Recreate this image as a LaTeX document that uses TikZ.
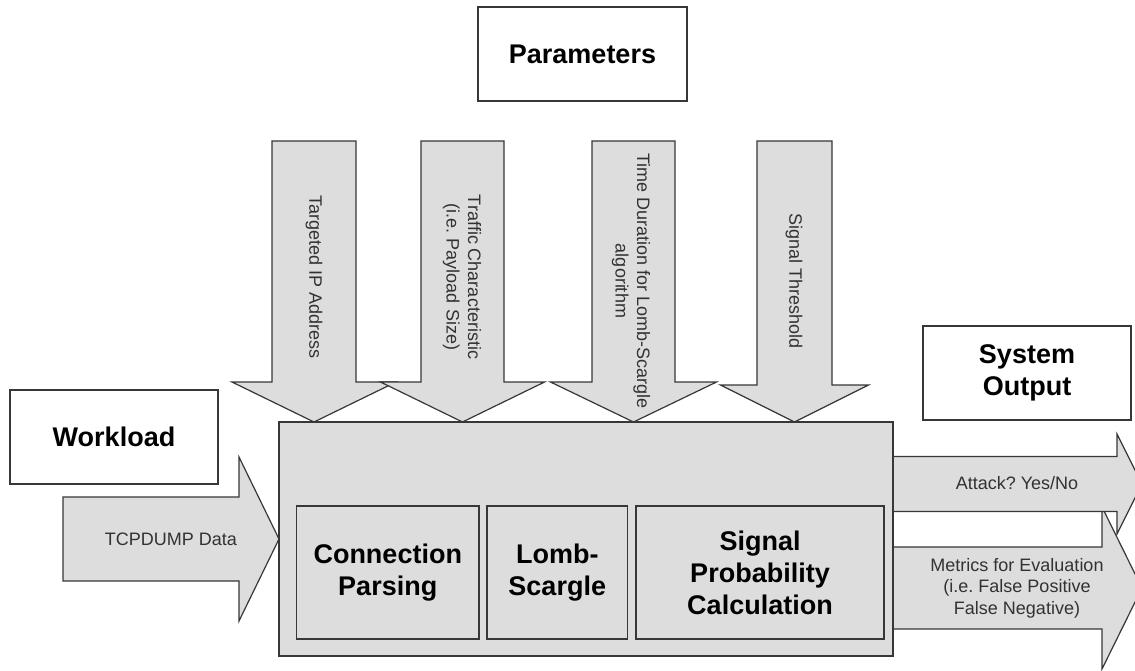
\documentclass[tikz,border=0pt]{standalone}
\usepackage{fontspec}
\setmainfont{Liberation Sans}
\frenchspacing
\definecolor{fillgray}{RGB}{221,221,221}
\definecolor{linegray}{RGB}{55,55,55}
\definecolor{textgray}{RGB}{50,50,50}
\newcommand\DownArr[6]{% cx, half shaft, half head, top, base, tip
  \filldraw[blockfill] (#1-#2,#4) -- (#1+#2,#4) -- (#1+#2,#5) -- (#1+#3,#5) -- (#1,#6) -- (#1-#3,#5) -- (#1-#2,#5) -- cycle;}
\newcommand\RightArr[6]{% cy, half shaft, half head, left, base, tip
  \filldraw[blockfill] (#4,#1-#2) -- (#5,#1-#2) -- (#5,#1-#3) -- (#6,#1) -- (#5,#1+#3) -- (#5,#1+#2) -- (#4,#1+#2) -- cycle;}
\begin{document}
\begin{tikzpicture}[x=1pt,y=-1pt,
  blockfill/.style={fill=fillgray,draw=linegray,line width=1.2pt,line join=miter},
  wbox/.style={draw=linegray,line width=1.2pt,fill=white,inner sep=0pt},
  gbox/.style={draw=linegray,line width=1.2pt,fill=fillgray,inner sep=0pt},
  titletxt/.style={font=\fontsize{27}{32}\selectfont\bfseries\frenchspacing,text=black,align=center},
  smalltxt/.style={font=\fontsize{18}{21.5}\selectfont\frenchspacing,text=textgray,align=center,inner sep=0pt},
]
\useasboundingbox (0,0) rectangle (1135,670);

% title boxes
\node[wbox,titletxt,minimum width=209pt,minimum height=94pt] (params) at (582.5,54) {Parameters};
\node[wbox,titletxt,minimum width=208pt,minimum height=94pt] (workload) at (114,437) {Workload};
\node[wbox,titletxt,minimum width=208pt,minimum height=94pt] (sysout) at (1027,373) {System\\Output};

% down arrows
\DownArr{314}{42}{82}{141}{382}{422}
\DownArr{462.5}{41.5}{82}{141}{382}{422}
\DownArr{633.5}{41.5}{83}{141}{382}{422}
\DownArr{794.5}{37.5}{74}{141}{385}{422}
\node[smalltxt,rotate=-90] (p1) at (314,277) {Targeted IP Address};
\node[smalltxt,rotate=-90] (p2) at (462,277) {Traffic Characteristic\\(i.e. Payload Size)};
\node[smalltxt,rotate=-90] (p3) at (631,281) {Time Duration for Lomb-Scargle\\algorithm};
\node[smalltxt,rotate=-90] (p4) at (794,281) {Signal Threshold};

% input arrow
\RightArr{539}{42}{82}{63}{239}{279}
\node[smalltxt] (tcp) at (171,539) {TCPDUMP Data};

% output arrows
\RightArr{588}{41}{81}{893}{1102}{1142}
\RightArr{484}{27.5}{50}{893}{1117}{1142}
\node[smalltxt] (attack) at (1017,483) {Attack? Yes/No};
\node[smalltxt] (metrics) at (1017,588) {Metrics for Evaluation\\(i.e. False Positive\\False Negative)};

% main block
\node[gbox,minimum width=614pt,minimum height=234pt] (main) at (586,539) {};
\node[gbox,titletxt,minimum width=182.5pt,minimum height=133pt] (conn) at (387.75,572.5) {Connection\\Parsing};
\node[gbox,titletxt,minimum width=140.5pt,minimum height=133pt] (lomb) at (557.25,572.5) {Lomb-\\Scargle};
\node[gbox,titletxt,minimum width=248pt,minimum height=133pt] (sig) at (760,572.5) {Signal\\Probability\\Calculation};
\end{tikzpicture}
\end{document}
